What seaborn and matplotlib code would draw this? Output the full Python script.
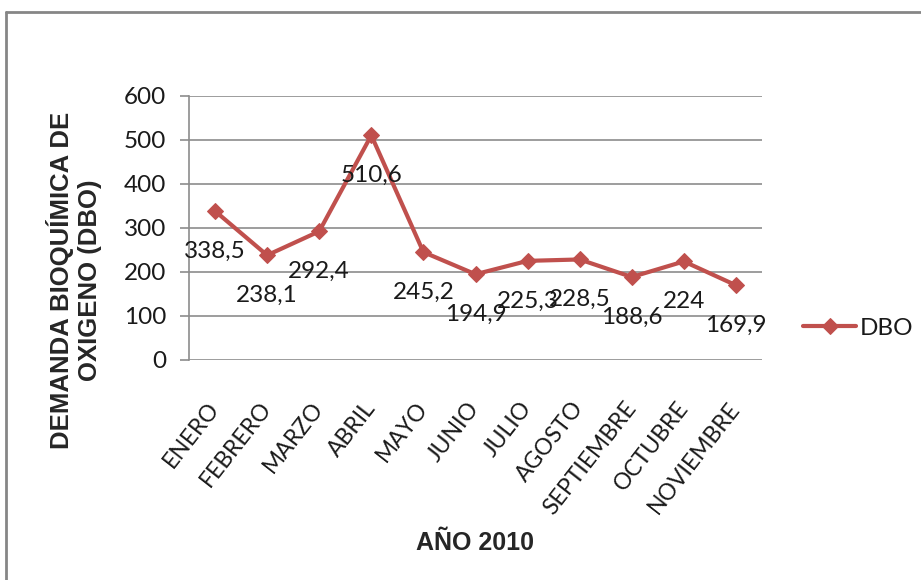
import numpy as np
import matplotlib.pyplot as plt
import seaborn as sns
import pandas as pd
from matplotlib.lines import Line2D

meses = ['ENERO', 'FEBRERO', 'MARZO', 'ABRIL', 'MAYO', 'JUNIO', 'JULIO',
         'AGOSTO', 'SEPTIEMBRE', 'OCTUBRE', 'NOVIEMBRE']
dbo = [338.5, 238.1, 292.4, 510.6, 245.2, 194.9, 225.3, 228.5, 188.6, 224, 169.9]
etiquetas = ['338,5', '238,1', '292,4', '510,6', '245,2', '194,9', '225,3',
             '228,5', '188,6', '224', '169,9']


def main():
    sns.set_theme(style='white')
    plt.rcParams['font.family'] = ['Lato', 'DejaVu Sans']
    df = pd.DataFrame({'mes': meses, 'DBO': dbo})

    W, H = 921, 580
    fig = plt.figure(figsize=(W / 100, H / 100), dpi=100)
    ax = fig.add_axes([189 / W, 1 - 360 / H, (762 - 189) / W, (360 - 96) / H])

    red = '#C0504D'
    grid = '#8C8C8C'
    txt = '#1a1a1a'
    sns.lineplot(data=df, x='mes', y='DBO', ax=ax, color=red, linewidth=3,
                 marker='D', markersize=8, markeredgecolor=red, label='DBO',
                 sort=False)

    ax.set_xlim(-0.5, len(meses) - 0.5)
    ax.set_ylim(0, 600)
    ax.set_yticks(np.arange(0, 601, 100))
    ax.yaxis.grid(True, color=grid, linewidth=1.2)
    ax.set_axisbelow(True)
    for s in ['top', 'right', 'bottom']:
        ax.spines[s].set_visible(False)
    ax.spines['left'].set_color(grid)
    ax.spines['left'].set_linewidth(1.2)
    ax.tick_params(axis='y', left=True, length=6.5, width=1.2, color=grid,
                   labelsize=17.5, pad=10, labelcolor=txt)
    ax.tick_params(axis='x', bottom=False, labelsize=16.5, pad=26,
                   labelcolor=txt)
    for lab in ax.get_xticklabels():
        lab.set_rotation(52)
        lab.set_ha('right')
        lab.set_va('center')
        lab.set_rotation_mode('anchor')

    for i, (v, t) in enumerate(zip(dbo, etiquetas)):
        ax.annotate(t, (i, v), xytext=(0, -29), textcoords='offset points',
                    ha='center', va='center', fontsize=17.5, color=txt)

    ax.set_xlabel('')
    ax.set_ylabel('')
    fig.text(475 / W, 1 - 543 / H, 'AÑO 2010', ha='center', va='center',
             fontsize=18, fontweight='bold', family='Liberation Sans')
    fig.text(74 / W, 1 - 280 / H, 'DEMANDA BIOQUÍMICA DE\nOXIGENO (DBO)',
             rotation=90, ha='center', va='center', multialignment='center',
             fontsize=18.5, fontweight='bold', family='Liberation Sans',
             linespacing=1.2)

    ax.legend(loc='center left', bbox_to_anchor=(803 / W, 1 - 328 / H),
              bbox_transform=fig.transFigure, frameon=False, fontsize=17.5,
              handlelength=2.2, handletextpad=0.15, borderpad=0,
              borderaxespad=0, labelcolor=txt)

    # outer chart frame (cut at right and bottom)
    fig.add_artist(Line2D([5.5 / W, 5.5 / W], [0, 1 - 12 / H], color='#868686',
                          linewidth=2, transform=fig.transFigure))
    fig.add_artist(Line2D([5.5 / W, 1], [1 - 12 / H, 1 - 12 / H], color='#868686',
                          linewidth=2, transform=fig.transFigure))

    fig.savefig('out.png', dpi=100)


if __name__ == '__main__':
    main()
